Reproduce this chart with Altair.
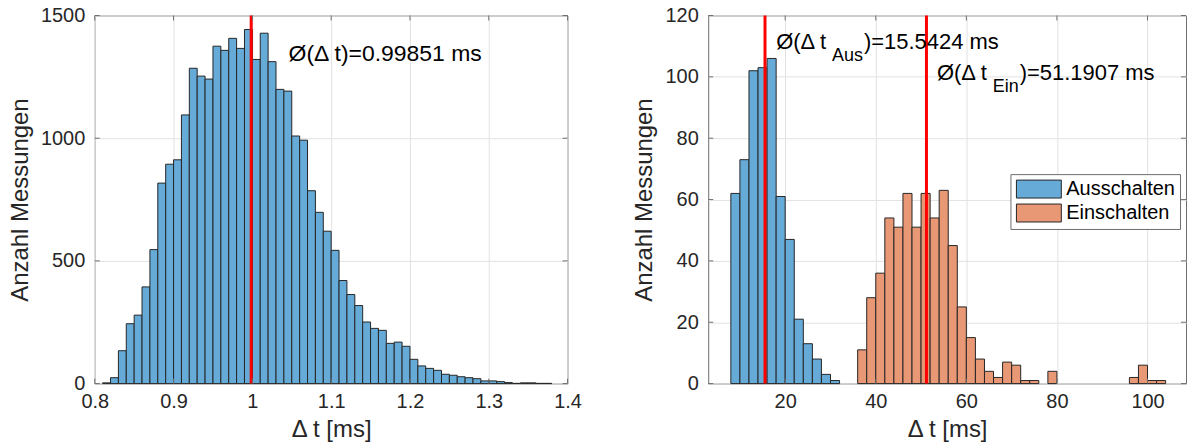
import altair as alt
import pandas as pd

FONT = "Liberation Sans"
TXT = "#262626"
BOX = "#6e6e6e"
EDGE = "#262626"
GRID = "#e2e2e2"

# ---------------- data: left histogram ----------------
left_bin_width = 0.01
left_bin_start = [0.81, 0.82, 0.83, 0.84, 0.85, 0.86, 0.87, 0.88, 0.89, 0.90,
                  0.91, 0.92, 0.93, 0.94, 0.95, 0.96, 0.97, 0.98, 0.99, 1.00,
                  1.01, 1.02, 1.03, 1.04, 1.05, 1.06, 1.07, 1.08, 1.09, 1.10,
                  1.11, 1.12, 1.13, 1.14, 1.15, 1.16, 1.17, 1.18, 1.19, 1.20,
                  1.21, 1.22, 1.23, 1.24, 1.25, 1.26, 1.27, 1.28, 1.29, 1.30,
                  1.31, 1.32, 1.33, 1.34, 1.35, 1.36, 1.37]
left_counts = [3, 24, 134, 244, 279, 394, 546, 817, 894, 912,
               1095, 1285, 1253, 1241, 1375, 1358, 1407, 1366, 1443, 1321,
               1428, 1312, 1199, 1192, 1009, 992, 786, 698, 621, 543,
               420, 363, 318, 251, 225, 217, 164, 169, 152, 99,
               72, 62, 54, 38, 34, 28, 24, 20, 11, 11,
               8, 4, 1, 3, 3, 1, 1]
left_mean = [0.99851]
left_x_ticks = [0.8, 0.9, 1.0, 1.1, 1.2, 1.3, 1.4]
left_y_ticks = [0, 500, 1000, 1500]
left_x_domain = [0.8, 1.4]
left_y_domain = [0, 1500]

# ---------------- data: right histogram ----------------
right_bin_width = 2
series_names = ["Ausschalten", "Einschalten"]
series_colors = ["#66AAD7", "#E89875"]
aus_bin_start = [8, 10, 12, 14, 16, 18, 20, 22, 24, 26, 28, 30]
aus_counts = [62, 73, 102, 103, 106, 61, 47, 21, 13, 8, 3, 1]
ein_bin_start = [36, 38, 40, 42, 44, 46, 48, 50, 52, 54, 56, 58, 60, 62, 64,
                 66, 68, 70, 72, 74, 78, 96, 98, 100, 102]
ein_counts = [11, 28, 36, 54, 51, 62, 51, 62, 54, 63, 45, 25, 15, 8, 4,
              2, 7, 6, 1, 1, 4, 2, 6, 1, 1]
right_means = [15.5424, 51.1907]
right_x_ticks = [20, 40, 60, 80, 100]
right_y_ticks = [0, 20, 40, 60, 80, 100, 120]
right_x_domain = [3, 108.5]
right_y_domain = [0, 120]

# annotations: (x, y) of the text start/baseline in data units, and pieces
left_ann = {"x": 1.046, "y": 1316, "main": "Ø(Δ t)=0.99851 ms"}
aus_ann = {"x": 18.0, "y": 109.1, "pre": "Ø(Δ t", "sub": "Aus", "post": ")=15.5424 ms"}
ein_ann = {"x": 53.5, "y": 99.1, "pre": "Ø(Δ t", "sub": "Ein", "post": ")=51.1907 ms"}

LW, RW, H = 474, 479, 369


def xenc(field, dom, ticks, fmt):
    return alt.X(field, type="quantitative",
                 scale=alt.Scale(domain=dom, nice=False, zero=False),
                 axis=alt.Axis(values=ticks, format=fmt, title="Δ t [ms]",
                               grid=True, gridColor=GRID, ticks=False, domain=False,
                               labelFontSize=20, labelFont=FONT, labelColor=TXT,
                               labelPadding=8, labelFlush=False,
                               titleFontSize=24, titleFont=FONT, titleFontWeight="normal",
                               titleColor=TXT, titlePadding=6))


def yenc(field, dom, ticks):
    return alt.Y(field, type="quantitative",
                 scale=alt.Scale(domain=dom, nice=False, zero=True),
                 axis=alt.Axis(values=ticks, format="d", title="Anzahl Messungen",
                               grid=True, gridColor=GRID, ticks=False, domain=False,
                               labelFontSize=20, labelFont=FONT, labelColor=TXT,
                               labelPadding=10, labelFlush=False,
                               titleFontSize=24, titleFont=FONT, titleFontWeight="normal",
                               titleColor=TXT, titlePadding=8))


def inner_ticks(xe, ye_fn, xticks, yticks, W):
    xt = pd.DataFrame({"v": xticks})
    yt = pd.DataFrame({"v": yticks})
    layers = []
    for a, b in [(H, H - 5), (0, 5)]:
        layers.append(alt.Chart(xt).mark_rule(color=BOX, strokeWidth=1).encode(
            x=xe("v"), y=alt.value(a), y2=alt.value(b)))
    for a, b in [(0, 5), (W, W - 5)]:
        layers.append(alt.Chart(yt).mark_rule(color=BOX, strokeWidth=1).encode(
            y=ye_fn("v"), x=alt.value(a), x2=alt.value(b)))
    return layers


# ---------------- left panel ----------------
def lx(f):
    return xenc(f, left_x_domain, left_x_ticks, ".1~f")


def ly(f):
    return yenc(f, left_y_domain, left_y_ticks)


ldf = pd.DataFrame({"start": left_bin_start, "count": left_counts})
ldf["end"] = ldf["start"] + left_bin_width

lbars = alt.Chart(ldf).mark_rect(fill=series_colors[0], stroke=EDGE, strokeWidth=1).encode(
    x=lx("start"), x2="end", y=ly("count"), y2=alt.datum(0))
lmean = alt.Chart(pd.DataFrame({"m": left_mean})).mark_rule(color="#FF0000", strokeWidth=3).encode(
    x=lx("m"))
ltext = alt.Chart(pd.DataFrame([left_ann])).mark_text(
    align="left", baseline="alphabetic", font=FONT, fontSize=23, color="black").encode(
    x=lx("x"), y=ly("y"), text="main:N")

left = alt.layer(lbars, lmean, ltext,
                 *inner_ticks(lx, ly, left_x_ticks, left_y_ticks, LW)
                 ).properties(width=LW, height=H)


# ---------------- right panel ----------------
def rx(f):
    return xenc(f, right_x_domain, right_x_ticks, "d")


def ry(f):
    return yenc(f, right_y_domain, right_y_ticks)


rdf = pd.concat([
    pd.DataFrame({"start": aus_bin_start, "count": aus_counts, "series": series_names[0]}),
    pd.DataFrame({"start": ein_bin_start, "count": ein_counts, "series": series_names[1]}),
])
rdf["end"] = rdf["start"] + right_bin_width

rbars = alt.Chart(rdf).mark_rect(stroke=EDGE, strokeWidth=1, opacity=1).encode(
    x=rx("start"), x2="end", y=ry("count"), y2=alt.datum(0),
    color=alt.Color("series:N", scale=alt.Scale(domain=series_names, range=series_colors),
                    legend=alt.Legend(title=None, orient="none", legendX=918, legendY=159,
                                      symbolType="M-1,-1H4V1H-1Z", symbolSize=324,
                                      symbolStrokeColor=EDGE, symbolStrokeWidth=1,
                                      symbolOpacity=1,
                                      labelFontSize=20, labelFont=FONT, labelColor="black",
                                      labelOffset=31, rowPadding=2, padding=5,
                                      strokeColor=BOX, fillColor="white")))
rmean = alt.Chart(pd.DataFrame({"m": right_means})).mark_rule(color="#FF0000", strokeWidth=3).encode(
    x=rx("m"))


def sub_text(ann):
    d = pd.DataFrame([ann])
    sub_w = 31 if ann["sub"] == "Aus" else 26
    t1 = alt.Chart(d).mark_text(align="left", baseline="alphabetic", font=FONT, fontSize=22,
                                color="black").encode(x=rx("x"), y=ry("y"), text="pre:N")
    t2 = alt.Chart(d).mark_text(align="left", baseline="alphabetic", font=FONT, fontSize=18,
                                color="black", dx=56, dy=12).encode(x=rx("x"), y=ry("y"), text="sub:N")
    t3 = alt.Chart(d).mark_text(align="left", baseline="alphabetic", font=FONT, fontSize=22,
                                color="black", dx=57 + sub_w).encode(x=rx("x"), y=ry("y"), text="post:N")
    return [t1, t2, t3]


right = alt.layer(rbars, rmean, *sub_text(aus_ann), *sub_text(ein_ann),
                  *inner_ticks(rx, ry, right_x_ticks, right_y_ticks, RW)
                  ).properties(width=RW, height=H)

chart = alt.hconcat(left, right, spacing=50).properties(
    padding={"left": 8, "top": 4, "right": 1, "bottom": 0}
).configure_view(stroke=BOX, strokeWidth=1).configure_axis(
    labelFont=FONT, titleFont=FONT
)

chart.save("out.html", embed_options={"renderer": "svg", "actions": False})
